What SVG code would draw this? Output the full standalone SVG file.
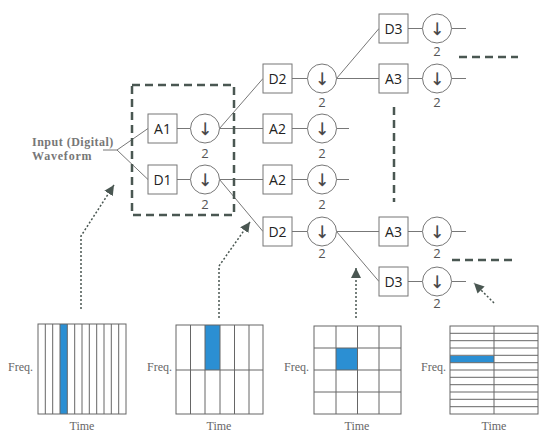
<svg xmlns="http://www.w3.org/2000/svg" width="550" height="440" viewBox="0 0 550 440">
<style>
.box{fill:#fff;stroke:#777;stroke-width:1}
.cir{fill:#fff;stroke:#777;stroke-width:1}
.lbl{font-family:"Open Sans","Liberation Sans",sans-serif;font-size:14px;fill:#222;text-anchor:middle}
.arr{font-family:"DejaVu Sans","Liberation Sans",sans-serif;font-size:17px;fill:#444;stroke:#444;stroke-width:0.2;text-anchor:middle}
.two{font-family:"Open Sans","Liberation Sans",sans-serif;font-size:13px;fill:#555;text-anchor:middle}
.ser{font-family:"Liberation Serif","DejaVu Serif",serif;font-size:12px;fill:#666}
.wire{fill:none;stroke:#777;stroke-width:1}
.thick{fill:none;stroke:#4a5752;stroke-width:2.5;stroke-dasharray:8,5}
.dot{fill:none;stroke:#4a5752;stroke-width:1.5;stroke-dasharray:2,2}
.grid{fill:none;stroke:#666;stroke-width:1}
.blue{fill:#2b8fd3}
</style>
<defs>
<marker id="ah" viewBox="0 0 10 10" refX="10" refY="5" markerWidth="10" markerHeight="10" markerUnits="userSpaceOnUse" orient="auto">
<path d="M0,0 L10,5 L0,10 z" fill="#4a5752"/>
</marker>
</defs>

<g id="input-label">
<text class="ser" x="32" y="146" style="font-weight:bold;letter-spacing:0.5px;fill:#777">Input (Digital)</text>
<text class="ser" x="32" y="160" style="font-weight:bold;letter-spacing:0.8px;fill:#777">Waveform</text>
</g>

<g id="connectors">
<path class="wire" d="M103,150 H117 M117,150 L148,128.5 M117,150 L148,179.5"/>
<path class="wire" d="M177,128.5 H190.5 M177,179.5 H190.5"/>
<path class="wire" d="M219.5,128.5 L263,78.5 M219.5,128.5 H263 M219.5,179.5 H263 M219.5,179.5 L263,231.5"/>
<path class="wire" d="M292,78.5 H307.5 M292,128.5 H307.5 M292,179.5 H307.5 M292,231.5 H307.5"/>
<path class="wire" d="M336.5,128.5 H349 M336.5,179.5 H349"/>
<path class="wire" d="M336.5,78.5 L379,28.5 M336.5,78.5 H379 M336.5,231.5 H379 M336.5,231.5 L379,281.5"/>
<path class="wire" d="M408,28.5 H422.5 M408,78.5 H422.5 M408,231.5 H422.5 M408,281.5 H422.5"/>
<path class="wire" d="M451.5,28.5 H466 M451.5,78.5 H466 M451.5,231.5 H466 M451.5,281.5 H466"/>
</g>

<g id="level1-box">
<rect class="thick" x="132" y="85" width="102" height="130"/>
</g>

<g id="A1"><rect class="box" x="148" y="114" width="29" height="29"/><text class="lbl" x="162.5" y="133.5">A1</text></g>
<g id="A1-down"><circle class="cir" cx="205" cy="128.5" r="14.5"/><text class="arr" x="205" y="134.5">↓</text><text class="two" x="205" y="158">2</text></g>
<g id="D1"><rect class="box" x="148" y="165" width="29" height="29"/><text class="lbl" x="162.5" y="184.5">D1</text></g>
<g id="D1-down"><circle class="cir" cx="205" cy="179.5" r="14.5"/><text class="arr" x="205" y="185.5">↓</text><text class="two" x="205" y="209">2</text></g>

<g id="D2-top"><rect class="box" x="263" y="64" width="29" height="29"/><text class="lbl" x="277.5" y="83.5">D2</text></g>
<g id="D2-top-down"><circle class="cir" cx="322" cy="78.5" r="14.5"/><text class="arr" x="322" y="84.5">↓</text><text class="two" x="322" y="107">2</text></g>
<g id="A2-a"><rect class="box" x="263" y="114" width="29" height="29"/><text class="lbl" x="277.5" y="133.5">A2</text></g>
<g id="A2-a-down"><circle class="cir" cx="322" cy="128.5" r="14.5"/><text class="arr" x="322" y="134.5">↓</text><text class="two" x="322" y="158">2</text></g>
<g id="A2-b"><rect class="box" x="263" y="165" width="29" height="29"/><text class="lbl" x="277.5" y="184.5">A2</text></g>
<g id="A2-b-down"><circle class="cir" cx="322" cy="179.5" r="14.5"/><text class="arr" x="322" y="185.5">↓</text><text class="two" x="322" y="209">2</text></g>
<g id="D2-bot"><rect class="box" x="263" y="217" width="29" height="29"/><text class="lbl" x="277.5" y="236.5">D2</text></g>
<g id="D2-bot-down"><circle class="cir" cx="322" cy="231.5" r="14.5"/><text class="arr" x="322" y="237.5">↓</text><text class="two" x="322" y="258">2</text></g>

<g id="D3-top"><rect class="box" x="379" y="14" width="29" height="29"/><text class="lbl" x="393.5" y="33.5">D3</text></g>
<g id="D3-top-down"><circle class="cir" cx="437" cy="28.5" r="14.5"/><text class="arr" x="437" y="34.5">↓</text><text class="two" x="437" y="56">2</text></g>
<g id="A3-top"><rect class="box" x="379" y="64" width="29" height="29"/><text class="lbl" x="393.5" y="83.5">A3</text></g>
<g id="A3-top-down"><circle class="cir" cx="437" cy="78.5" r="14.5"/><text class="arr" x="437" y="84.5">↓</text><text class="two" x="437" y="107">2</text></g>
<g id="A3-bot"><rect class="box" x="379" y="217" width="29" height="29"/><text class="lbl" x="393.5" y="236.5">A3</text></g>
<g id="A3-bot-down"><circle class="cir" cx="437" cy="231.5" r="14.5"/><text class="arr" x="437" y="237.5">↓</text><text class="two" x="437" y="258">2</text></g>
<g id="D3-bot"><rect class="box" x="379" y="267" width="29" height="29"/><text class="lbl" x="393.5" y="286.5">D3</text></g>
<g id="D3-bot-down"><circle class="cir" cx="437" cy="281.5" r="14.5"/><text class="arr" x="437" y="287.5">↓</text><text class="two" x="437" y="308">2</text></g>

<g id="continuation-dashes">
<path class="thick" d="M459,57 H518"/>
<path class="thick" d="M394,107 V202"/>
<path class="thick" d="M452,260 H517"/>
</g>

<g id="pointer-arrows">
<path class="dot" d="M81,309 V236 L114,185" marker-end="url(#ah)"/>
<path class="dot" d="M219,318 V266 L250,222" marker-end="url(#ah)"/>
<path class="dot" d="M356,318 V268" marker-end="url(#ah)"/>
<path class="dot" d="M494,303 L474,283" marker-end="url(#ah)"/>
</g>

<g id="tf-grid-1">
<rect class="blue" x="60" y="324" width="7.3" height="90"/>
<rect class="grid" x="38" y="324" width="88" height="90"/>
<path class="grid" d="M45.3,324V414 M52.7,324V414 M60,324V414 M67.3,324V414 M74.7,324V414 M82,324V414 M89.3,324V414 M96.7,324V414 M104,324V414 M111.3,324V414 M118.7,324V414"/>
<text class="ser" x="33" y="371" text-anchor="end">Freq.</text>
<text class="ser" x="82" y="430" text-anchor="middle">Time</text>
</g>

<g id="tf-grid-2">
<rect class="blue" x="205" y="325" width="15" height="45"/>
<rect class="grid" x="176" y="325" width="87" height="89"/>
<path class="grid" d="M176,370H263 M190.5,325V414 M205,325V414 M220,325V414 M234.5,325V414 M249,325V414"/>
<text class="ser" x="172" y="371" text-anchor="end">Freq.</text>
<text class="ser" x="219" y="430" text-anchor="middle">Time</text>
</g>

<g id="tf-grid-3">
<rect class="blue" x="336" y="348" width="21.5" height="22"/>
<rect class="grid" x="314" y="326" width="87" height="88"/>
<path class="grid" d="M336,326V414 M357.5,326V414 M379,326V414 M314,348H401 M314,370H401 M314,392H401"/>
<text class="ser" x="309" y="371" text-anchor="end">Freq.</text>
<text class="ser" x="357" y="430" text-anchor="middle">Time</text>
</g>

<g id="tf-grid-4">
<rect class="blue" x="450" y="356" width="44" height="6.5"/>
<rect class="grid" x="450" y="326" width="88" height="88"/>
<path class="grid" d="M494,326V414 M450,333.3H538 M450,340.7H538 M450,348H538 M450,355.3H538 M450,362.7H538 M450,370H538 M450,377.3H538 M450,384.7H538 M450,392H538 M450,399.3H538 M450,406.7H538"/>
<text class="ser" x="446" y="371" text-anchor="end">Freq.</text>
<text class="ser" x="494" y="430" text-anchor="middle">Time</text>
</g>
</svg>
